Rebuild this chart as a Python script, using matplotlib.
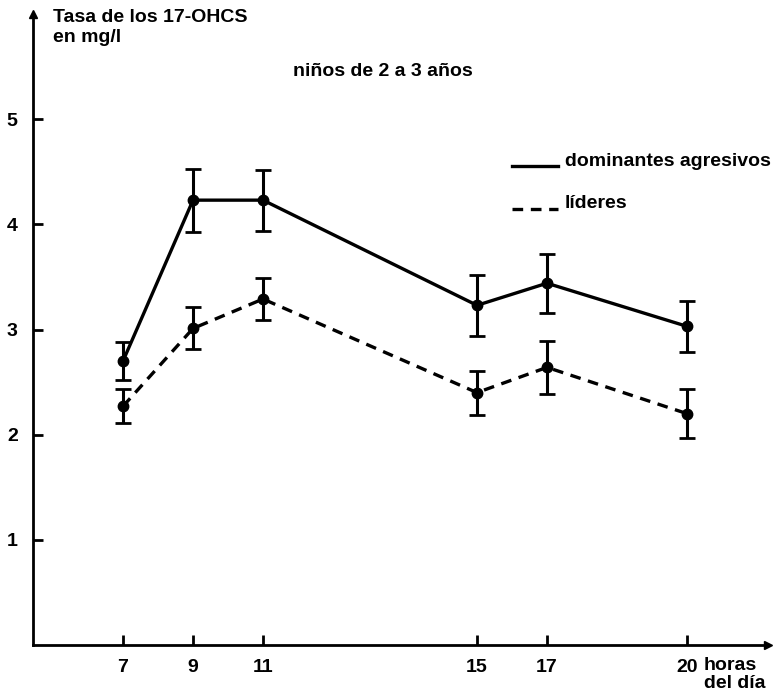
import numpy as np
import matplotlib
matplotlib.use("Agg")
import matplotlib.pyplot as plt

# ---- data ----
hours = [7, 9, 11, 15, 17, 20]
dominantes = [2.70, 4.23, 4.23, 3.23, 3.44, 3.03]
dominantes_err = [0.18, 0.30, 0.29, 0.29, 0.28, 0.24]
lideres = [2.27, 3.01, 3.29, 2.40, 2.64, 2.20]
lideres_err = [0.16, 0.20, 0.20, 0.21, 0.25, 0.23]
yticks = [1, 2, 3, 4, 5]
xtick_labels = ["7", "9", "11", "15", "17", "20"]

# hand-drawn (non-uniform) hour axis of the original figure
warp_hours = np.array([0, 7, 9, 11, 15, 17, 20, 30], dtype=float)
warp_pos = np.array([-122, 123, 193, 263, 477, 547, 687, 1154], dtype=float)

def fwd(x):
    return np.interp(x, warp_hours, warp_pos)

def inv(p):
    return np.interp(p, warp_pos, warp_hours)

plt.rcParams['font.family'] = ['Liberation Sans', 'DejaVu Sans']

W, H = 773, 693
fig = plt.figure(figsize=(W / 100, H / 100), dpi=100)
ax_left, ax_right = 33, 768
ax_bottom, ax_top = 645, 14
ax = fig.add_axes([ax_left / W, 1 - ax_bottom / H,
                   (ax_right - ax_left) / W, (ax_bottom - ax_top) / H])

ax.set_xscale('function', functions=(fwd, inv))
ax.set_xlim(inv(ax_left), inv(ax_right))
ax.set_ylim(0, 6.0)

lw = 2.4
ax.errorbar(hours, dominantes, yerr=dominantes_err, color='black', lw=lw,
            marker='o', ms=7.5, capsize=5.5, capthick=2, elinewidth=2.2,
            clip_on=False, zorder=3)
eb = ax.errorbar(hours, lideres, yerr=lideres_err, color='black', lw=lw,
                 marker='o', ms=7.5, capsize=5.5, capthick=2, elinewidth=2.2,
                 clip_on=False, zorder=3)
eb[0].set_linestyle((0, (3.2, 2.3)))

for s in ['top', 'right']:
    ax.spines[s].set_visible(False)
for s in ['left', 'bottom']:
    ax.spines[s].set_linewidth(2.0)

fs = 14
ax.set_yticks(yticks)
ax.set_yticklabels([str(v) for v in yticks])
ax.set_xticks(hours)
ax.set_xticklabels(xtick_labels)
ax.xaxis.set_minor_locator(matplotlib.ticker.NullLocator())
ax.tick_params(axis='both', direction='in', length=7, width=2,
               labelsize=fs)
ax.tick_params(axis='y', pad=11)
ax.tick_params(axis='x', pad=10)
for t in ax.get_xticklabels() + ax.get_yticklabels():
    t.set_fontweight('bold')

# axis arrows
ax.plot([0], [1], marker='^', ms=6, color='black', transform=ax.transAxes,
        clip_on=False)
ax.plot([1], [0], marker='>', ms=6, color='black', transform=ax.transAxes,
        clip_on=False)

# texts
fig.text(53 / W, 1 - 9 / H, "Tasa de los 17-OHCS\nen mg/l", ha='left',
         va='top', fontsize=fs, fontweight='bold', linespacing=1.2)
fig.text(383 / W, 1 - 71 / H, "niños de 2 a 3 años", ha='center',
         va='center', fontsize=fs, fontweight='bold')
fig.text(704 / W, 1 - 666 / H, "horas", ha='left', va='center',
         fontsize=fs, fontweight='bold')
fig.text(766 / W, 1 - 684 / H, "del día", ha='right', va='center',
         fontsize=fs, fontweight='bold')

# legend (hand-placed like the original)
fig.add_artist(plt.Line2D([512 / W, 558 / W], [1 - 166 / H, 1 - 166 / H],
                          color='black', lw=lw))
fig.text(565 / W, 1 - 161 / H, "dominantes agresivos", ha='left',
         va='center', fontsize=fs, fontweight='bold')
fig.add_artist(plt.Line2D([512 / W, 558 / W], [1 - 209 / H, 1 - 209 / H],
                          color='black', lw=lw, linestyle=(0, (3.2, 2.3))))
fig.text(565 / W, 1 - 203 / H, "líderes", ha='left', va='center',
         fontsize=fs, fontweight='bold')

fig.savefig("out.png", dpi=100)
